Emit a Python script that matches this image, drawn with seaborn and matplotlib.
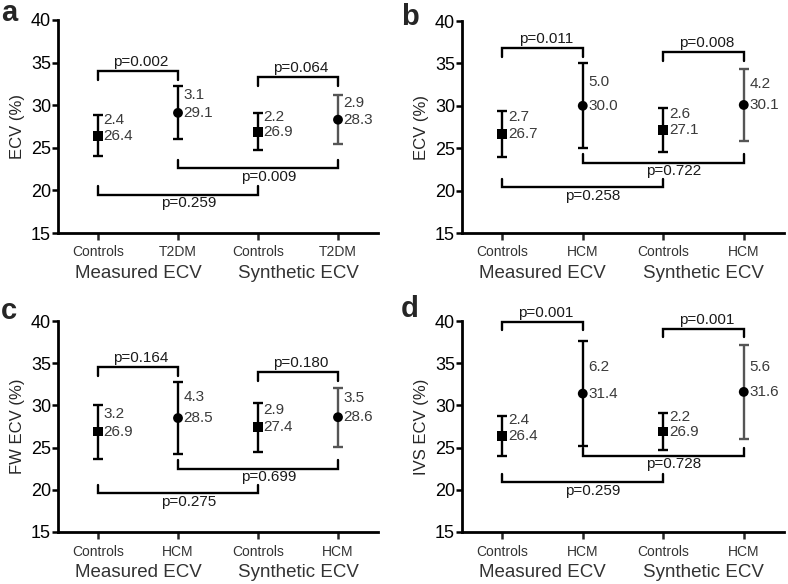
import matplotlib
matplotlib.use("Agg")
import matplotlib.pyplot as plt
import seaborn as sns
import pandas as pd

# Data (mean and SD per group)
positions = [0, 1, 2, 3]
groups = ["Measured ECV", "Synthetic ECV"]
panel_letters = ["a", "b", "c", "d"]
disease_names = ["T2DM", "HCM", "HCM", "HCM"]
ylabels = ["ECV (%)", "ECV (%)", "FW ECV (%)", "IVS ECV (%)"]

means_a = [26.4, 29.1, 26.9, 28.3]
sds_a = [2.4, 3.1, 2.2, 2.9]
pvals_a = ["0.002", "0.064", "0.009", "0.259"]

means_b = [26.7, 30.0, 27.1, 30.1]
sds_b = [2.7, 5.0, 2.6, 4.2]
pvals_b = ["0.011", "0.008", "0.722", "0.258"]

means_c = [26.9, 28.5, 27.4, 28.6]
sds_c = [3.2, 4.3, 2.9, 3.5]
pvals_c = ["0.164", "0.180", "0.699", "0.275"]

means_d = [26.4, 31.4, 26.9, 31.6]
sds_d = [2.4, 6.2, 2.2, 5.6]
pvals_d = ["0.001", "0.001", "0.728", "0.259"]

# bracket pairs: controls vs disease within each method, then across methods
bracket_pairs = [(0, 1), (2, 3), (1, 3), (0, 2)]
bracket_up = [False, False, True, True]

# bracket heights (layout)
levels = [
    [34.0, 33.3, 22.6, 19.5],
    [36.8, 36.3, 23.3, 20.4],
    [34.5, 33.9, 22.5, 19.6],
    [39.9, 39.05, 24.0, 20.9],
]

all_means = [means_a, means_b, means_c, means_d]
all_sds = [sds_a, sds_b, sds_c, sds_d]
all_pvals = [pvals_a, pvals_b, pvals_c, pvals_d]

sns.set_theme(style="ticks")
plt.rcParams["font.family"] = ["Liberation Sans", "DejaVu Sans"]

fig = plt.figure(figsize=(7.88, 5.84), dpi=100)
W, H = 788, 584
# axes boxes in pixels: left, top, right, bottom
boxes = [(58, 20, 378, 233), (462, 21, 784, 233),
         (58, 321, 378, 532), (462, 321, 784, 532)]
letter_pos = [(1, 21), (401, 25), (1, 319), (401, 317)]

for i in range(4):
    l, t, r, b = boxes[i]
    ax = fig.add_axes([l / W, 1 - b / H, (r - l) / W, (b - t) / H])
    means, sds, pvals = all_means[i], all_sds[i], all_pvals[i]
    kinds = ["Controls", "Patients", "Controls", "Patients"]
    df = pd.DataFrame({"pos": positions, "mean": means, "sd": sds, "kind": kinds})

    ecolors = ["black", "black", "black", "#555555"]
    for x, m, s, c in zip(df["pos"], df["mean"], df["sd"], ecolors):
        ax.errorbar(x, m, yerr=s, fmt="none", ecolor=c, elinewidth=1.7,
                    capsize=3.5, capthick=1.7, zorder=2)

    sns.scatterplot(data=df, x="pos", y="mean", style="kind",
                    markers={"Controls": "s", "Patients": "o"},
                    color="black", s=50, edgecolor="black", linewidth=0,
                    legend=False, ax=ax, zorder=3)

    for x, m, s in zip(df["pos"], df["mean"], df["sd"]):
        ax.annotate(f"{m:.1f}", (x, m), xytext=(4, 0), textcoords="offset points",
                    ha="left", va="center", fontsize=11, color="#3a3a3a")
        ax.annotate(f"{s:.1f}", (x, m + 1.0 + 0.35 * s), xytext=(4, 0),
                    textcoords="offset points", ha="left", va="center",
                    fontsize=11, color="#3a3a3a")

    for (x0, x1), up, lev, p in zip(bracket_pairs, bracket_up, levels[i], pvals):
        leg = lev + 1.0 if up else lev - 1.0
        ax.plot([x0, x0, x1, x1], [leg, lev, lev, leg], color="black",
                lw=1.7, clip_on=False, solid_joinstyle="miter")
        if up:
            ax.text((x0 + x1) / 2 + 0.13, lev - 1.0, f"p={p}", ha="center",
                    va="center", fontsize=11, color="#1a1a1a")
        else:
            ax.text((x0 + x1) / 2 + 0.04, lev + 1.1, f"p={p}", ha="center",
                    va="center", fontsize=11, color="#1a1a1a")

    ax.set_xlim(-0.5, 3.5)
    ax.set_ylim(15, 40)
    ax.set_yticks([15, 20, 25, 30, 35, 40])
    ax.set_xticks(positions)
    ax.set_xticklabels(["Controls", disease_names[i], "Controls", disease_names[i]],
                       fontsize=10, color="#333333")
    ax.tick_params(axis="y", labelsize=13, width=1.8, length=4, pad=1, colors="black")
    ax.tick_params(axis="x", width=1.8, length=5, pad=4)
    ax.set_xlabel("")
    ax.set_ylabel(ylabels[i], fontsize=12, labelpad=4)
    for side in ["left", "bottom"]:
        ax.spines[side].set_linewidth(2.0)
        ax.spines[side].set_color("black")
    sns.despine(ax=ax)

    for g, gx in zip(groups, [0.5, 2.5]):
        ax.annotate(g, (gx, 0), xycoords=("data", "axes fraction"),
                    xytext=(0, -29), textcoords="offset points",
                    ha="center", va="center", fontsize=13.5, color="#333333")

    lx, ly = letter_pos[i]
    fig.text(lx / W, 1 - ly / H, panel_letters[i], fontsize=21,
             fontweight="bold", ha="left", va="baseline")

fig.savefig("out.png", dpi=100)
